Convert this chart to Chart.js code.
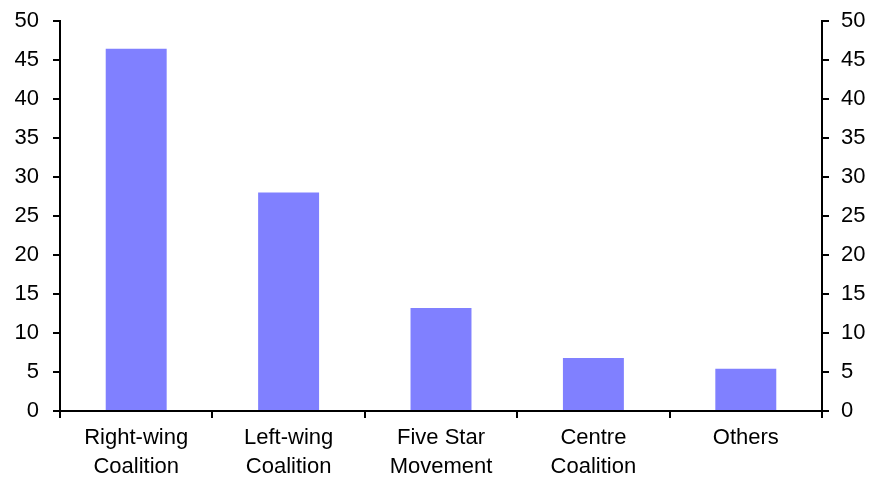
<!DOCTYPE html>
<html>
<head>
    <meta charset="utf-8">
    <title>Italian election poll</title>
    <script src="https://cdn.jsdelivr.net/npm/chart.js@4.4.1/dist/chart.umd.min.js"></script>
    <style>
        html, body { margin: 0; padding: 0; background: #fff; }
        #wrap { width: 882px; height: 491px; }
    </style>
</head>
<body>
    <div id="wrap"><canvas id="pollChart" width="882" height="491"></canvas></div>

    <script>
        const categories = [
            ["Right-wing", "Coalition"],
            ["Left-wing", "Coalition"],
            ["Five Star", "Movement"],
            ["Centre", "Coalition"],
            ["Others"]
        ];
        const voteShare = [46.4, 28.0, 13.2, 6.8, 5.4];

        const font = { family: "'Liberation Sans', Arial, sans-serif", size: 22 };

        // lineHeight kept small so the top label does not push the plot down
        const yAxis = (pos, pad) => ({
            position: pos,
            min: 0,
            max: 50,
            ticks: { stepSize: 5, color: '#000', font: Object.assign({}, font, { lineHeight: 0.6 }), padding: pad },
            grid: { drawOnChartArea: false, drawTicks: true, tickLength: 7, color: '#000', lineWidth: 2 },
            border: { display: true, color: '#000', width: 2 },
            afterFit: (s) => { s.width = 60; }
        });

        new Chart(document.getElementById('pollChart'), {
            type: 'bar',
            data: {
                labels: categories,
                datasets: [{
                    data: voteShare,
                    backgroundColor: '#8080FF',
                    categoryPercentage: 0.4,
                    barPercentage: 1.0,
                    yAxisID: 'y'
                }]
            },
            options: {
                responsive: false,
                animation: false,
                layout: { padding: { top: 20, right: 0, left: 0, bottom: 0 } },
                plugins: { legend: { display: false }, tooltip: { enabled: false } },
                scales: {
                    x: {
                        ticks: { color: '#000', font: Object.assign({}, font, { lineHeight: 1.3 }), maxRotation: 0, padding: 6 },
                        grid: { drawOnChartArea: false, drawTicks: true, tickLength: 7, color: '#000', lineWidth: 2, offset: true },
                        border: { display: true, color: '#000', width: 2 },
                        afterFit: (s) => { s.height = 80; }
                    },
                    y: yAxis('left', 14),
                    y2: yAxis('right', 12)
                }
            }
        });
    </script>
</body>
</html>
